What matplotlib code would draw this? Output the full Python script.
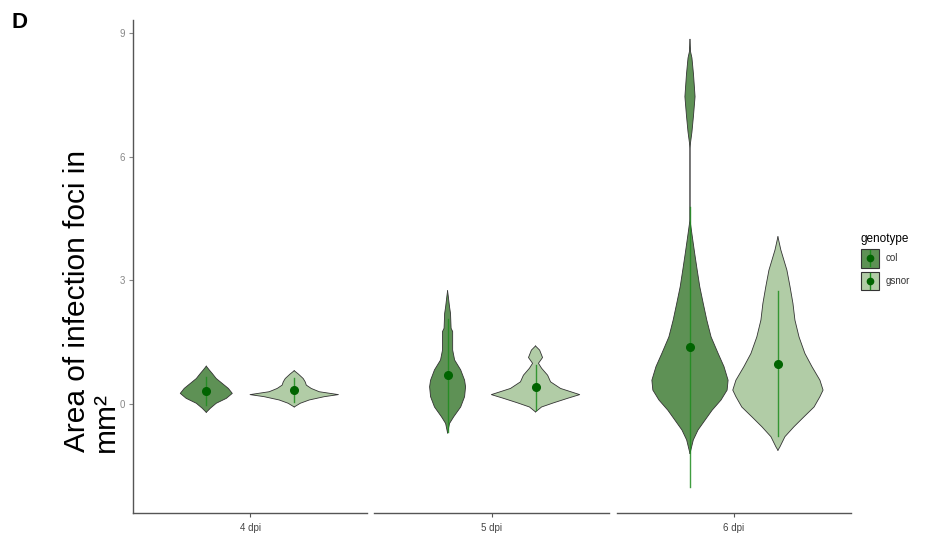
import matplotlib
matplotlib.use('Agg')
import matplotlib.pyplot as plt
from matplotlib.patches import Patch, Rectangle
from matplotlib.lines import Line2D

plt.rcParams['font.family'] = ['Liberation Sans', 'DejaVu Sans']

days = ['4 dpi', '5 dpi', '6 dpi']
genotypes = ['col', 'gsnor']

# violin outlines: y levels (mm2) and half widths (x units) for each day
col_levels = [
    [-0.20, -0.10, 0.02, 0.14, 0.26, 0.38, 0.50, 0.62, 0.74, 0.83, 0.92],
    [-0.70, -0.47, -0.31, -0.07, 0.18, 0.42, 0.58, 0.83, 1.07, 1.31, 1.76, 1.84,
     2.20, 2.36, 2.60, 2.75],
    [-1.20, -0.87, -0.63, -0.39, -0.15, 0.10, 0.34, 0.58, 0.91, 1.23, 1.63, 2.04,
     2.44, 2.85, 3.25, 3.66, 4.06, 4.47, 6.20, 6.35, 6.60, 7.00, 7.46, 8.00, 8.40,
     8.55, 8.85],
]
col_widths = [
    [0.000, 0.021, 0.051, 0.103, 0.133, 0.113, 0.082, 0.051, 0.031, 0.015, 0.000],
    [0.000, 0.010, 0.031, 0.067, 0.087, 0.092, 0.087, 0.067, 0.036, 0.026, 0.026, 0.018,
     0.015, 0.010, 0.004, 0.000],
    [0.000, 0.017, 0.041, 0.077, 0.113, 0.159, 0.190, 0.195, 0.174, 0.144, 0.108, 0.086,
     0.068, 0.050, 0.037, 0.024, 0.012, 0.000, 0.000, 0.003, 0.010, 0.018, 0.026, 0.018,
     0.010, 0.003, 0.000],
]
gsnor_levels = [
    [-0.07, 0.02, 0.10, 0.18, 0.23, 0.30, 0.38, 0.46, 0.54, 0.62, 0.73, 0.81],
    [-0.19, -0.07, 0.03, 0.14, 0.23, 0.38, 0.54, 0.70, 0.87, 0.99, 1.13, 1.31, 1.41],
    [-1.12, -1.04, -0.79, -0.55, -0.31, -0.07, 0.18, 0.34, 0.58, 0.91, 1.23, 1.63,
     2.04, 2.44, 2.85, 3.25, 3.74, 4.06],
]
gsnor_widths = [
    [0.000, 0.031, 0.077, 0.154, 0.226, 0.128, 0.087, 0.062, 0.056, 0.046, 0.021, 0.000],
    [0.000, 0.031, 0.092, 0.164, 0.226, 0.128, 0.077, 0.062, 0.031, 0.015, 0.036, 0.021,
     0.000],
    [0.000, 0.010, 0.036, 0.082, 0.133, 0.185, 0.215, 0.231, 0.215, 0.174, 0.138, 0.108,
     0.087, 0.077, 0.062, 0.046, 0.015, 0.000],
]

# mean +/- sd per day
col_mean = [0.32, 0.70, 1.38]
col_sd = [0.34, 1.37, 3.40]
gsnor_mean = [0.34, 0.41, 0.98]
gsnor_sd = [0.30, 0.55, 1.76]

fills = {'col': '#5e9155', 'gsnor': '#b1cca6'}
point_col = '#006400'
line_col = '#1e8c1e'
offsets = {'col': -0.225, 'gsnor': 0.225}

levels = {'col': col_levels, 'gsnor': gsnor_levels}
widths = {'col': col_widths, 'gsnor': gsnor_widths}
means = {'col': col_mean, 'gsnor': gsnor_mean}
sds = {'col': col_sd, 'gsnor': gsnor_sd}


class KeyHandler:
    """Legend key: filled box with the pointrange drawn through its centre."""

    def legend_artist(self, legend, orig_handle, fontsize, handlebox):
        x0, y0 = -handlebox.xdescent, -handlebox.ydescent
        w, h = handlebox.width, handlebox.height
        tr = handlebox.get_transform()
        box = Rectangle((x0, y0), w, h, facecolor=orig_handle.get_facecolor(),
                        edgecolor='#333333', linewidth=0.8, transform=tr)
        cx, cy = x0 + w / 2, y0 + h / 2
        bar = Line2D([cx, cx], [y0 + 1, y0 + h - 1], color=line_col, lw=1.0, transform=tr)
        dot = Line2D([cx], [cy], marker='o', ms=4.5, color=point_col, linestyle='none',
                     transform=tr)
        for art in (box, bar, dot):
            handlebox.add_artist(art)
        return box


fig = plt.figure(figsize=(9.37, 5.36), dpi=100)

panel_left = [133 / 937, 374.3 / 937, 616.7 / 937]
panel_w = 234.5 / 937
bottom = 1 - 513.3 / 536
height = (513.3 - 20) / 536

for i, day in enumerate(days):
    ax = fig.add_axes([panel_left[i], bottom, panel_w, height])
    for g in genotypes:
        x0 = 1 + offsets[g]
        ys = levels[g][i]
        ws = widths[g][i]
        left = [x0 - w for w in ws]
        right = [x0 + w for w in ws]
        ax.fill_betweenx(ys, left, right, facecolor=fills[g], edgecolor='none', zorder=2)
        ax.plot(left, ys, color='#333333', lw=0.6, zorder=3)
        ax.plot(right, ys, color='#333333', lw=0.6, zorder=3)
        m, s = means[g][i], sds[g][i]
        ax.plot([x0, x0], [m - s, m + s], color=line_col, lw=1.0, alpha=0.85, zorder=4)
        ax.plot([x0], [m], 'o', color=point_col, ms=5.5, zorder=5)

    ax.set_xlim(0.4, 1.6)
    ax.set_ylim(-2.65, 9.32)
    ax.set_xticks([1])
    ax.set_xticklabels([day], fontsize=7, color='#444444')
    for side in ['top', 'right']:
        ax.spines[side].set_visible(False)
    ax.spines['bottom'].set_color('#555555')
    ax.spines['bottom'].set_linewidth(1.0)
    ax.tick_params(axis='x', length=3, width=0.8, color='#555555', pad=4)
    if i == 0:
        ax.spines['left'].set_color('#555555')
        ax.spines['left'].set_linewidth(1.0)
        ax.set_yticks([0, 3, 6, 9])
        ax.set_yticklabels(['0', '3', '6', '9'], fontsize=7, color='#888888')
        ax.tick_params(axis='y', length=3, width=0.8, color='#888888', pad=3)
    else:
        ax.spines['left'].set_visible(False)
        ax.set_yticks([])

# y title, two lines with a shared start
fig.text(77 / 937, 1 - 452 / 536, 'Area of infection foci in',
         rotation=90, ha='center', va='bottom', fontsize=21.5)
fig.text(106 / 937, 1 - 452 / 536, 'mm\u00b2',
         rotation=90, ha='center', va='bottom', fontsize=21.5)
fig.text(12 / 937, 1 - 22 / 536, 'D', fontsize=16, fontweight='bold', va='center')

handles = [Patch(facecolor=fills[g]) for g in genotypes]
leg = fig.legend(handles, genotypes, title='genotype',
                 handler_map={Patch: KeyHandler()},
                 loc='upper left', bbox_to_anchor=(861 / 937, 1 - 233 / 536),
                 frameon=False, fontsize=7, title_fontsize=8.5,
                 handlelength=1.9, handleheight=2.6, labelspacing=0.4,
                 handletextpad=0.6, borderpad=0, borderaxespad=0, alignment='left')
for t in leg.get_texts():
    t.set_color('#333333')

fig.savefig('out.png', dpi=100)
